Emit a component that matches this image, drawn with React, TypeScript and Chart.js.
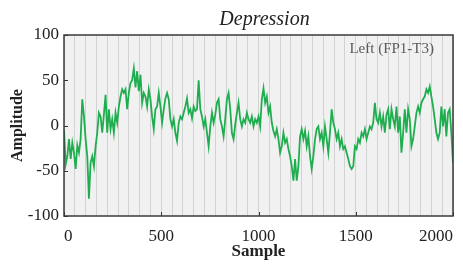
import React, { useEffect, useRef } from "react";
import { Chart, registerables } from "chart.js";

Chart.register(...registerables);

const TITLE = "Depression";
const CHANNEL_LABEL = "Left (FP1-T3)";
const X_LABEL = "Sample";
const Y_LABEL = "Amplitude";
const X_MIN = 0;
const X_MAX = 2000;
const Y_MIN = -100;
const Y_MAX = 100;
const X_TICKS = [0, 500, 1000, 1500, 2000];
const Y_TICKS = [-100, -50, 0, 50, 100];
const STRIPE_COUNT = 36;

// amplitude, evenly spaced over samples 0..2000
const AMPLITUDE = [
  -5, -43, -34, -15, -37, -19, -30, -48, -22, -30,
  -15, 29, 10, -15, -34, -81, -41, -34, -45, -23,
  -8, 14, 10, -8, 12, 34, -8, 18, -4, 7,
  -8, 14, 3, 21, 32, 40, 36, 40, 18, 36,
  47, 50, 63, 42, 60, 38, 56, 25, 36, 32,
  21, 40, 29, 10, -4, 18, 21, 36, 21, 3,
  18, 30, 36, 29, 7, -1, 7, -8, -17, 3,
  10, 7, 14, 21, 30, 14, 18, 8, 21, 16,
  18, 50, 18, 10, -1, 7, -8, -23, -1, 14,
  3, 12, 25, 29, 7, -1, -12, 7, 29, 36,
  18, -8, -15, 1, 14, 25, 7, -1, 7, 3,
  14, 7, 3, 10, -1, 7, 3, 10, -1, 29,
  41, 25, 32, 14, 21, 3, -6, -12, -4, -15,
  -30, -23, -8, -19, -15, -26, -34, -45, -61, -37,
  -61, -45, -12, -4, -15, -6, -23, -12, -34, -48,
  -34, -15, -4, -1, -15, -8, -23, -1, -15, -30,
  -8, 18, 3, -4, -15, -8, -23, -15, -26, -23,
  -30, -37, -45, -48, -45, -23, -26, -15, -19, -8,
  -12, -4, -15, -8, -1, -4, 3, 25, 7, 3,
  14, -1, 10, -8, 12, 18, -4, 18, 7, -1,
  21, -8, 10, -30, -8, 18, -8, 18, 7, -23,
  -15, -1, 14, 21, 14, 25, 29, 32, 40, 36,
  43, 32, 21, 7, -8, -15, -8, 21, -1, 18,
  -12, 14, 18, -8, -41,
];

const FONT = "'Liberation Serif', 'DejaVu Serif', serif";

export default function App() {
  const ref = useRef<HTMLCanvasElement>(null);

  useEffect(() => {
    if (!ref.current) return;
    const step = (X_MAX - X_MIN) / (AMPLITUDE.length - 1);
    const points = AMPLITUDE.map((y, i) => ({ x: X_MIN + i * step, y }));
    const stripeTicks = Array.from(
      { length: STRIPE_COUNT + 1 },
      (_, i) => X_MIN + (i * (X_MAX - X_MIN)) / STRIPE_COUNT
    );

    const decor = {
      id: "decor",
      beforeDraw(chart: any) {
        const { ctx, chartArea: a } = chart;
        ctx.save();
        ctx.fillStyle = "#f1f1f1";
        ctx.fillRect(a.left, a.top, a.right - a.left, a.bottom - a.top);
        ctx.restore();
      },
      afterDraw(chart: any) {
        const { ctx, chartArea: a, scales } = chart;
        ctx.save();
        ctx.strokeStyle = "#333";
        ctx.lineWidth = 1;
        ctx.beginPath();
        X_TICKS.forEach((v) => {
          const px = Math.round(scales.x.getPixelForValue(v)) + 0.5;
          ctx.moveTo(px, a.bottom);
          ctx.lineTo(px, a.bottom - 4);
        });
        Y_TICKS.forEach((v) => {
          const py = Math.round(scales.y.getPixelForValue(v)) + 0.5;
          ctx.moveTo(a.left, py);
          ctx.lineTo(a.left + 4, py);
        });
        ctx.stroke();
        ctx.strokeStyle = "#3a3a3a";
        ctx.lineWidth = 1.5;
        ctx.strokeRect(a.left, a.top, a.right - a.left, a.bottom - a.top);
        ctx.fillStyle = "#5a5a5a";
        ctx.font = `15px ${FONT}`;
        ctx.textAlign = "right";
        ctx.textBaseline = "middle";
        ctx.fillText(CHANNEL_LABEL, a.right - 19, a.top + 14);
        ctx.fillStyle = "#222";
        ctx.font = `italic 20px ${FONT}`;
        ctx.textAlign = "center";
        ctx.fillText(TITLE, (a.left + a.right) / 2 + 6, 20);
        ctx.restore();
      },
    };

    const chart = new Chart(ref.current, {
      type: "line",
      data: {
        datasets: [
          {
            data: points,
            borderColor: "#1fae4f",
            borderWidth: 1.8,
            pointRadius: 0,
            tension: 0,
            fill: false,
          },
        ],
      },
      options: {
        animation: false,
        responsive: false,
        events: [],
        layout: { padding: { top: 35, right: 7, bottom: 0, left: 0 } },
        plugins: {
          legend: { display: false },
          tooltip: { enabled: false },
          title: { display: false },
        },
        scales: {
          x: {
            type: "linear",
            min: X_MIN,
            max: X_MAX,
            afterBuildTicks: (s: any) => {
              s.ticks = stripeTicks.map((v) => ({ value: v }));
            },
            afterFit: (s: any) => {
              s.height = 51;
            },
            grid: { color: "#d2d2d2", lineWidth: 1, drawTicks: false },
            border: { display: false },
            ticks: {
              autoSkip: false,
              maxRotation: 0,
              align: "inner",
              padding: 10,
              color: "#222",
              font: { family: FONT, size: 17 },
              callback: (v: any) => {
                const t = X_TICKS.find((x) => Math.abs(x - Number(v)) < 0.01);
                return t === undefined ? "" : String(t);
              },
            },
            title: {
              display: true,
              text: X_LABEL,
              color: "#222",
              font: { family: FONT, size: 17, weight: "bold" },
              padding: { top: 0, bottom: 5 },
            },
          },
          y: {
            type: "linear",
            min: Y_MIN,
            max: Y_MAX,
            afterBuildTicks: (s: any) => {
              s.ticks = Y_TICKS.map((v) => ({ value: v }));
            },
            afterFit: (s: any) => {
              s.width = 64;
            },
            grid: { display: false, drawTicks: false },
            border: { display: false },
            ticks: {
              padding: 5,
              color: "#222",
              font: { family: FONT, size: 17 },
            },
            title: {
              display: true,
              text: Y_LABEL,
              color: "#222",
              font: { family: FONT, size: 16, weight: "bold" },
              padding: { top: 8, bottom: 0 },
            },
          },
        },
      },
      plugins: [decor],
    } as any);

    return () => chart.destroy();
  }, []);

  return (
    <div style={{ position: "absolute", left: 0, top: 0, width: 463, height: 267, background: "#fff" }}>
      <canvas ref={ref} width={463} height={267} />
    </div>
  );
}
